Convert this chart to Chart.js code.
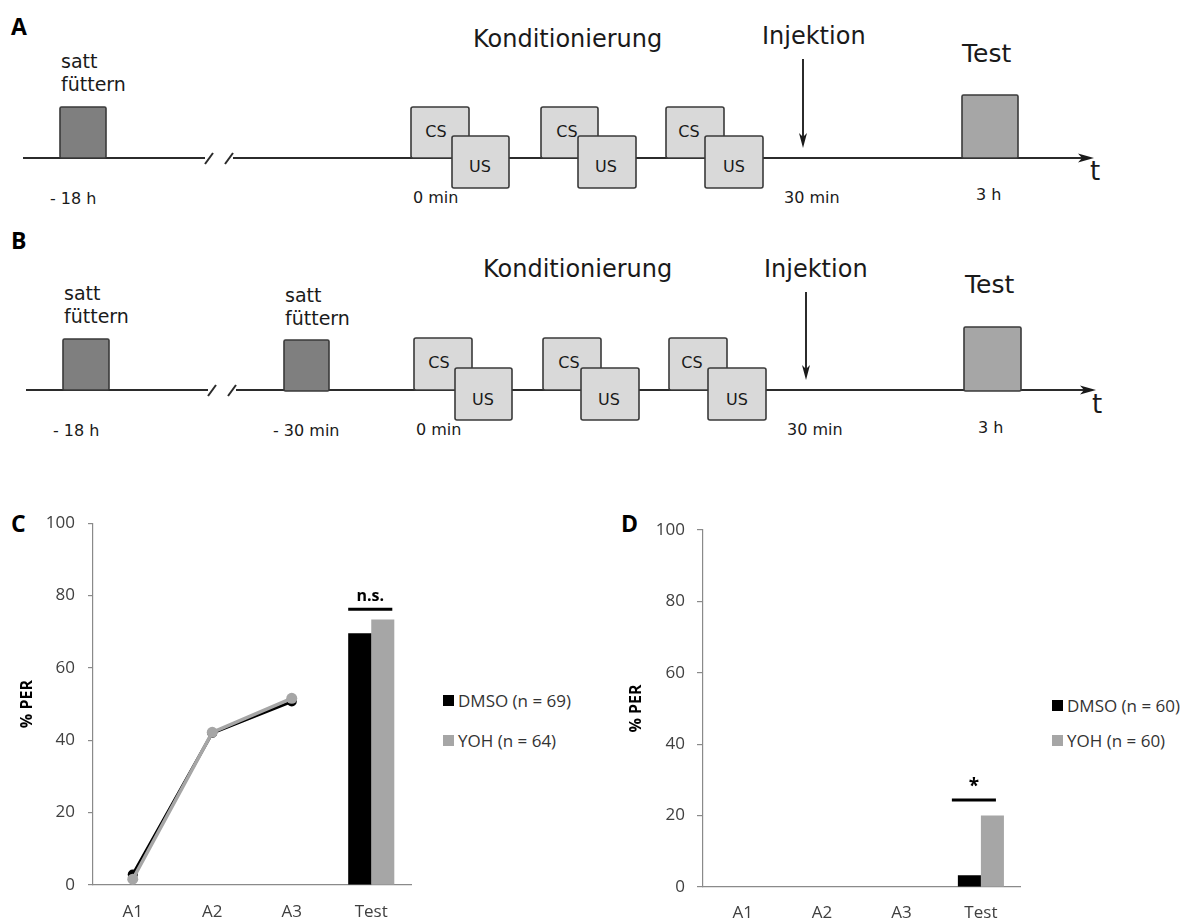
<!DOCTYPE html>
<html>
<head>
<meta charset="utf-8">
<script src="https://cdn.jsdelivr.net/npm/chart.js@4.4.1/dist/chart.umd.min.js"></script>
<style>
html, body { margin: 0; padding: 0; background: #fff; }
#page { position: relative; width: 1192px; height: 922px; overflow: hidden; background: #fff; }
#diagram { position: absolute; left: 0; top: 0; font-family: 'DejaVu Sans', sans-serif; }
canvas { position: absolute; }
.legrow { position: absolute; display: flex; align-items: center; height: 20px;
  font-family: 'Open Sans', sans-serif; font-size: 17px; color: #333; white-space: nowrap; }
.legrow .sw { display: inline-block; width: 11px; height: 11px; margin-right: 4px; }
</style>
</head>
<body>
<div id="page">
<svg id="diagram" width="1192" height="922" viewBox="0 0 1192 922" fill="#1a1a1a">
  <!-- Panel labels -->
  <g font-family="Open Sans, sans-serif" font-weight="700" font-size="23" fill="#000">
    <text x="11" y="35">A</text>
    <text x="11" y="249">B</text>
    <text x="11" y="532">C</text>
    <text x="621" y="532">D</text>
  </g>

  <!-- ===== Panel A ===== -->
  <g stroke="#2b2b2b" stroke-width="2" fill="none">
    <line x1="23" y1="158" x2="205" y2="158"/>
    <line x1="205" y1="164" x2="213" y2="153"/>
    <line x1="225" y1="164" x2="233" y2="153"/>
    <line x1="233" y1="158" x2="1084" y2="158"/>
    <line x1="803" y1="59" x2="803" y2="140"/>
  </g>
  <polygon points="1094,158 1078,153.5 1082,158 1078,162.5" fill="#1a1a1a"/>
  <polygon points="803,148 799,133 803,137 807,133" fill="#1a1a1a"/>
  <g stroke="#3a3a3a" stroke-width="1.6">
    <rect x="60" y="107" width="46" height="51" rx="1.5" fill="#7f7f7f"/>
    <rect x="411" y="107" width="58" height="51" rx="2" fill="#d9d9d9"/>
    <rect x="452" y="136" width="57" height="52" rx="2" fill="#d9d9d9"/>
    <rect x="541" y="107" width="57" height="51" rx="2" fill="#d9d9d9"/>
    <rect x="578" y="136" width="58" height="52" rx="2" fill="#d9d9d9"/>
    <rect x="666" y="107" width="58" height="51" rx="2" fill="#d9d9d9"/>
    <rect x="705" y="136" width="58" height="52" rx="2" fill="#d9d9d9"/>
    <rect x="962" y="95" width="56" height="63" rx="1.5" fill="#a6a6a6"/>
  </g>
  <g font-size="19">
    <text x="61" y="68">satt</text>
    <text x="61" y="91">füttern</text>
  </g>
  <text x="473" y="47" font-size="24">Konditionierung</text>
  <text x="762" y="44" font-size="24">Injektion</text>
  <text x="962" y="62" font-size="25">Test</text>
  <text x="1090" y="180" font-size="26">t</text>
  <g font-size="16" text-anchor="middle">
    <text x="436" y="137">CS</text>
    <text x="480" y="172">US</text>
    <text x="567" y="137">CS</text>
    <text x="606" y="172">US</text>
    <text x="689" y="137">CS</text>
    <text x="734" y="172">US</text>
  </g>
  <g font-size="16">
    <text x="50" y="204">- 18 h</text>
    <text x="413" y="203">0 min</text>
    <text x="784" y="203">30 min</text>
    <text x="976" y="200">3 h</text>
  </g>

  <!-- ===== Panel B ===== -->
  <g stroke="#2b2b2b" stroke-width="2" fill="none">
    <line x1="26" y1="390" x2="208" y2="390"/>
    <line x1="208" y1="396" x2="216" y2="385"/>
    <line x1="228" y1="396" x2="236" y2="385"/>
    <line x1="236" y1="390" x2="1086" y2="390"/>
    <line x1="806" y1="292" x2="806" y2="372"/>
  </g>
  <polygon points="1096,390 1080,385.5 1084,390 1080,394.5" fill="#1a1a1a"/>
  <polygon points="806,380 802,365 806,369 810,365" fill="#1a1a1a"/>
  <g stroke="#3a3a3a" stroke-width="1.6">
    <rect x="63" y="339" width="46" height="51" rx="1.5" fill="#7f7f7f"/>
    <rect x="284" y="340" width="45" height="51" rx="1.5" fill="#7f7f7f"/>
    <rect x="414" y="338" width="58" height="52" rx="2" fill="#d9d9d9"/>
    <rect x="455" y="368" width="57" height="52" rx="2" fill="#d9d9d9"/>
    <rect x="543" y="338" width="58" height="52" rx="2" fill="#d9d9d9"/>
    <rect x="581" y="368" width="58" height="52" rx="2" fill="#d9d9d9"/>
    <rect x="669" y="338" width="58" height="52" rx="2" fill="#d9d9d9"/>
    <rect x="708" y="368" width="58" height="52" rx="2" fill="#d9d9d9"/>
    <rect x="964" y="327" width="57" height="64" rx="1.5" fill="#a6a6a6"/>
  </g>
  <g font-size="19">
    <text x="64" y="300">satt</text>
    <text x="64" y="323">füttern</text>
    <text x="285" y="302">satt</text>
    <text x="285" y="325">füttern</text>
  </g>
  <text x="483" y="277" font-size="24">Konditionierung</text>
  <text x="764" y="277" font-size="24">Injektion</text>
  <text x="965" y="293" font-size="25">Test</text>
  <text x="1092" y="413" font-size="26">t</text>
  <g font-size="16" text-anchor="middle">
    <text x="439" y="368">CS</text>
    <text x="483" y="405">US</text>
    <text x="569" y="368">CS</text>
    <text x="609" y="405">US</text>
    <text x="692" y="368">CS</text>
    <text x="737" y="405">US</text>
  </g>
  <g font-size="16">
    <text x="53" y="436">- 18 h</text>
    <text x="273" y="436">- 30 min</text>
    <text x="416" y="435">0 min</text>
    <text x="787" y="435">30 min</text>
    <text x="978" y="433">3 h</text>
  </g>
</svg>

<canvas id="chartC" width="430" height="422" style="left:0px; top:500px; width:430px; height:422px;"></canvas>
<canvas id="chartD" width="440" height="422" style="left:600px; top:500px; width:440px; height:422px;"></canvas>
<div id="legendC"></div>
<div id="legendD"></div>
</div>

<script>
// ---------- DATA ----------
const categories = ['A1', 'A2', 'A3', 'Test'];
const yTickValues = [0, 20, 40, 60, 80, 100];
const yAxisTitle = '% PER';

// Panel C
const seriesNamesC = ['DMSO (n = 69)', 'YOH (n = 64)'];
const dmsoAcquisitionC = [2.9, 42.0, 50.7, null];
const yohAcquisitionC = [1.6, 42.2, 51.6, null];
const dmsoTestC = [null, null, null, 69.6];
const yohTestC = [null, null, null, 73.4];
const sigTextC = 'n.s.';
const sigLevelC = 76.2;

// Panel D
const seriesNamesD = ['DMSO (n = 60)', 'YOH (n = 60)'];
const dmsoAcquisitionD = [null, null, null, null];
const yohAcquisitionD = [null, null, null, null];
const dmsoTestD = [null, null, null, 3.3];
const yohTestD = [null, null, null, 20.0];
const sigTextD = '*';
const sigLevelD = 24.4;

// ---------- STYLE ----------
const seriesColors = ['#000000', '#a6a6a6'];
const axisColor = '#8a8a8a';
const tickColor = '#404040';
Chart.defaults.font.family = "'Open Sans', sans-serif";

const sigPlugin = {
  id: 'sigMark',
  afterDatasetsDraw(chart, args, opts) {
    const { ctx } = chart;
    const yScale = chart.scales.y;
    const a = chart.getDatasetMeta(opts.left).data[opts.index];
    const b = chart.getDatasetMeta(opts.right).data[opts.index];
    if (!a || !b) return;
    const x0 = a.x - a.width / 2 + opts.shift;
    const x1 = b.x + b.width / 2 + opts.shift - 2;
    const yPix = yScale.getPixelForValue(opts.level);
    ctx.save();
    ctx.strokeStyle = '#000';
    ctx.lineWidth = 3;
    ctx.beginPath();
    ctx.moveTo(x0, yPix);
    ctx.lineTo(x1, yPix);
    ctx.stroke();
    ctx.fillStyle = '#000';
    ctx.font = `bold ${opts.size}px 'Open Sans', sans-serif`;
    ctx.textAlign = 'center';
    ctx.textBaseline = 'alphabetic';
    ctx.fillText(opts.text, (x0 + x1) / 2, yPix - opts.gap);
    ctx.restore();
  }
};

function buildChart(canvasId, p) {
  return new Chart(document.getElementById(canvasId), {
    type: 'bar',
    data: {
      labels: categories,
      datasets: [
        { type: 'line', label: p.names[1], data: p.yohAcq, borderColor: seriesColors[1],
          backgroundColor: seriesColors[1], pointBackgroundColor: seriesColors[1], pointBorderWidth: 0,
          borderWidth: 3.5, pointRadius: 5.5, tension: 0, order: 0 },
        { type: 'line', label: p.names[0], data: p.dmsoAcq, borderColor: seriesColors[0],
          backgroundColor: seriesColors[0], pointBackgroundColor: seriesColors[0], pointBorderWidth: 0,
          borderWidth: 3, pointRadius: 5, tension: 0, order: 1 },
        { type: 'bar', label: p.names[0], data: p.dmsoTest, backgroundColor: seriesColors[0],
          categoryPercentage: 0.58, barPercentage: 1.0, order: 2 },
        { type: 'bar', label: p.names[1], data: p.yohTest, backgroundColor: seriesColors[1],
          categoryPercentage: 0.58, barPercentage: 1.0, order: 3 }
      ]
    },
    options: {
      responsive: false,
      animation: false,
      devicePixelRatio: 1,
      layout: { padding: { top: p.padTop, right: p.padRight, left: 0, bottom: 0 } },
      plugins: {
        legend: { display: false },
        tooltip: { enabled: false },
        sigMark: { left: 2, right: 3, index: 3, level: p.sigLevel, text: p.sigText,
                   size: p.sigSize, gap: 8, shift: p.sigShift }
      },
      scales: {
        x: {
          grid: { display: false, drawTicks: false },
          border: { display: true, color: axisColor, width: 1.2 },
          ticks: { color: tickColor, font: { size: 17 }, padding: p.xPad },
          afterFit(s) { s.height = p.xHeight; }
        },
        y: {
          min: 0, max: 100,
          afterBuildTicks(s) { s.ticks = yTickValues.map(v => ({ value: v })); },
          grid: { drawOnChartArea: false, drawTicks: true, tickLength: p.tickLen, color: axisColor, lineWidth: 1.2 },
          border: { display: true, color: axisColor, width: 1.2 },
          ticks: { color: tickColor, font: { size: 17 }, padding: p.yPad },
          title: { display: true, text: yAxisTitle, color: '#000',
                   font: { size: 16, weight: 'bold' }, padding: { top: p.titlePad, bottom: 0 } },
          afterFit(s) { s.width = p.yWidth; }
        }
      }
    },
    plugins: [sigPlugin]
  });
}

function buildLegend(containerId, names, left, rows) {
  const c = document.getElementById(containerId);
  names.forEach((n, i) => {
    const row = document.createElement('div');
    row.className = 'legrow';
    row.style.left = left + 'px';
    row.style.top = (rows[i] - 10) + 'px';
    const sw = document.createElement('span');
    sw.className = 'sw';
    sw.style.background = seriesColors[i];
    const tx = document.createElement('span');
    tx.textContent = n;
    row.appendChild(sw);
    row.appendChild(tx);
    c.appendChild(row);
  });
}

buildChart('chartC', {
  names: seriesNamesC, dmsoAcq: dmsoAcquisitionC, yohAcq: yohAcquisitionC,
  dmsoTest: dmsoTestC, yohTest: yohTestC, sigText: sigTextC, sigLevel: sigLevelC,
  sigSize: 16, sigShift: 0,
  padTop: 23, padRight: 19, xHeight: 37, xPad: 17, yWidth: 93, yPad: 13, tickLen: 5, titlePad: 18
});
buildChart('chartD', {
  names: seriesNamesD, dmsoAcq: dmsoAcquisitionD, yohAcq: yohAcquisitionD,
  dmsoTest: dmsoTestD, yohTest: yohTestD, sigText: sigTextD, sigLevel: sigLevelD,
  sigSize: 19, sigShift: -6,
  padTop: 30, padRight: 19.4, xHeight: 35, xPad: 16, yWidth: 103, yPad: 12, tickLen: 6, titlePad: 27
});
buildLegend('legendC', seriesNamesC, 443, [700, 740]);
buildLegend('legendD', seriesNamesD, 1052, [705, 740]);
</script>
</body>
</html>
